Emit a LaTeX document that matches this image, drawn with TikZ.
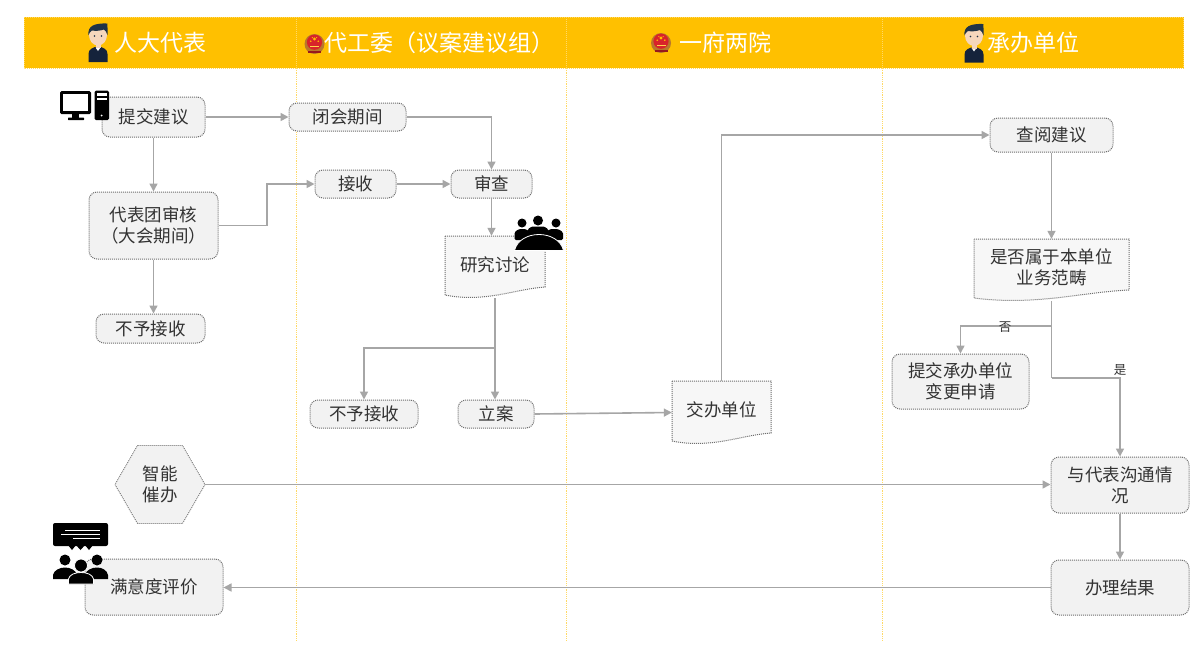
\documentclass[tikz,border=0pt]{standalone}
\usepackage{fontspec}
\setmainfont{Noto Sans CJK SC}
\usetikzlibrary{arrows.meta,shapes.geometric}
\definecolor{hdr}{HTML}{FFC000}
\definecolor{boxfill}{HTML}{F2F2F2}
\definecolor{boxline}{HTML}{6E6E6E}
\definecolor{conn}{HTML}{A6A6A6}
\definecolor{txt}{HTML}{333333}
\definecolor{hair}{HTML}{1F3347}
\definecolor{skin}{HTML}{F6D7BC}
\definecolor{navy}{HTML}{15233B}
\definecolor{eggold}{HTML}{B9772B}
\definecolor{egred}{HTML}{D8232A}
\definecolor{divider}{HTML}{FFD966}
\tikzset{
  x=1pt,y=-1pt,
  dotline/.style={dash pattern=on 1pt off 1pt},
  hdrtext/.style={text=white,font=\fontsize{23}{26}\selectfont,inner sep=0pt},
  flowbox/.style={draw=boxline,dotline,line width=1pt,fill=boxfill,rounded corners=8pt,text=txt,
    font=\fontsize{17.5}{21}\selectfont,align=center,inner sep=0pt},
  docbox/.style={text=txt,font=\fontsize{17.5}{21}\selectfont,align=center,inner sep=0pt},
  docshape/.style={draw=boxline,dotline,line width=1pt,fill=boxfill!60!white},
  hexbox/.style={regular polygon,regular polygon sides=6,draw=boxline,dotline,line width=0.8pt,fill=boxfill,
    text=txt,font=\fontsize{17.5}{21}\selectfont,align=center,inner sep=0pt},
  arrowline/.style={draw=conn,line width=1.6pt,-{Triangle[length=8pt,width=8pt]}},
  plainline/.style={draw=conn,line width=1.6pt},
  edgetext/.style={text=txt,font=\fontsize{12.5}{14}\selectfont,inner sep=0pt},
  vdiv/.style={draw=divider,dash pattern=on 1.2pt off 1pt,line width=0.8pt}
}
% box: name, x1, y1, x2, y2, text
\newcommand{\flownode}[6]{%
  \pgfmathsetmacro{\cxx}{(#2+#4)/2}\pgfmathsetmacro{\cyy}{(#3+#5)/2}%
  \pgfmathsetmacro{\bw}{#4-#2}\pgfmathsetmacro{\bh}{#5-#3}%
  \node[flowbox,minimum width=\bw pt,minimum height=\bh pt] (#1) at (\cxx,\cyy) {#6};}
% document: name, x1, y1, x2, y2, text
\newcommand{\docnode}[6]{%
  \pgfmathsetmacro{\cxx}{(#2+#4)/2}\pgfmathsetmacro{\cyy}{(#3+#5)/2}%
  \pgfmathsetmacro{\bw}{#4-#2}\pgfmathsetmacro{\bh}{#5-#3}%
  \path[docshape] (#2,#3) -- (#4,#3) -- (#4,#5-11)
    .. controls (#2+0.7*\bw,#5-9) and (#2+0.4*\bw,#5+5) .. (#2,#5-3) -- cycle;
  \node[docbox,minimum width=\bw pt,minimum height=\bh pt] (#1) at (\cxx,\cyy)
    {\raisebox{6pt}{\begin{tabular}{@{}c@{}}#6\end{tabular}}};}
\newcommand{\personicon}[2]{%
  \begin{scope}[shift={(#1,#2)}]
    \fill[navy] (-9.5,39) -- (-9.5,31) .. controls (-9.5,26) and (-5,25) .. (-3,24) -- (3,24)
      .. controls (5,25) and (9.5,26) .. (9.5,31) -- (9.5,39) -- cycle;
    \fill[white] (-2.5,24.5) -- (0,28) -- (2.5,24.5) -- cycle;
    \fill[skin] (-2.5,18) rectangle (2.5,25);
    \fill[skin] (0,12) ellipse [x radius=9,y radius=10.5];
    \fill[hair] (-9.5,12) .. controls (-10.5,3) and (-4,0) .. (9.5,0.5)
      .. controls (9,2) and (10,6) .. (9.5,12) .. controls (8,9) and (8,7.5) .. (6,6.5)
      .. controls (2,8) and (-3,8) .. (-6,7.5) .. controls (-8,8.5) and (-8.5,10) .. (-9.5,12) -- cycle;
    \fill[hair] (-3.5,13) circle (0.9) (3.5,13) circle (0.9);
  \end{scope}}
\newcommand{\emblemicon}[2]{%
  \begin{scope}[shift={(#1,#2)}]
    \fill[eggold] (0,0) circle (10);
    \fill[egred] (0,-1.8) circle (7.6);
    \fill[hdr] (0,-5) circle (1.7) (-3.8,-2.8) circle (0.9) (3.8,-2.8) circle (0.9) (-2.2,-6.4) circle (0.6) (2.2,-6.4) circle (0.6);
    \fill[hdr!70!white] (-4.5,1.5) rectangle (4.5,3.4);
    \fill[egred!70!black] (-6.5,6.5) rectangle (6.5,9);
  \end{scope}}
\begin{document}
\begin{tikzpicture}
\useasboundingbox (0,0) rectangle (1200,649);
\fill[white] (0,0) rectangle (1200,649);
% header band
\fill[hdr] (24,17) rectangle (1183.5,68);
\draw[draw=hdr!60!white,dotline,line width=0.6pt] (24,17) rectangle (1183.5,68);
% lane dividers
\draw[vdiv] (296,68) -- (296,642);
\draw[vdiv] (566.5,68) -- (566.5,642);
\draw[vdiv] (882,68) -- (882,642);
\draw[draw=hdr!60!white,dotline,line width=0.6pt] (296,17) -- (296,68) (566.5,17) -- (566.5,68) (882,17) -- (882,68);
% header text
\node[hdrtext] (h1) at (160,43) {人大代表};
\node[hdrtext] (h2) at (439.5,43) {代工委（议案建议组）};
\node[hdrtext] (h3) at (725.5,43) {一府两院};
\node[hdrtext] (h4) at (1033,43) {承办单位};
% nodes
\flownode{submit}{102}{97}{205}{137}{提交建议}
\flownode{recess}{289}{103}{406}{131}{闭会期间}
\flownode{accept}{315}{170}{396}{198}{接收}
\flownode{review}{451}{170}{532}{198}{审查}
\flownode{delegation}{89}{192}{218}{259}{代表团审核\\（大会期间）}
\flownode{rejectA}{96}{314}{205}{343}{不予接收}
\docnode{discuss}{445}{236}{545}{298}{研究讨论}
\flownode{rejectB}{310}{400}{418}{428}{不予接收}
\flownode{filed}{458}{400}{534}{428}{立案}
\docnode{assign}{672}{381}{771}{444}{交办单位}
\flownode{consult}{990}{118}{1113}{152}{查阅建议}
\docnode{inscope}{974}{239}{1129}{301}{是否属于本单位\\业务范畴}
\flownode{change}{892}{354}{1029}{409}{提交承办单位\\变更申请}
\flownode{talk}{1051}{457}{1189}{513}{与代表沟通情\\况}
\flownode{result}{1051}{560}{1189}{615}{办理结果}
\flownode{satisfy}{85}{559}{223}{615}{满意度评价}
\node[hexbox,minimum size=90pt] (urge) at (160,484.5) {智能\\催办};
% connectors
\coordinate (b2) at (267,184);
\coordinate (split1) at (495,348);
\coordinate (split1b) at (364,348);
\coordinate (up) at (721.5,135);
\coordinate (j1) at (1051.5,326);
\coordinate (j1b) at (960.5,326);
\coordinate (j2) at (1051.5,378);
\coordinate (j2b) at (1120,378);
\draw[arrowline] (submit.east) -- (submit.east -| recess.west);
\draw[arrowline] (recess.east) -| (review.north);
\draw[arrowline] (submit.south) -- (submit.south |- delegation.north);
\draw[arrowline] (delegation.east) -| (b2) -- (accept.west);
\draw[arrowline] (accept.east) -- (review.west);
\draw[arrowline] (review.south) -- (review.south |- discuss.north);
\draw[arrowline] (delegation.south) -- (delegation.south |- rejectA.north);
\draw[arrowline] (discuss.south) -- (split1) -- (filed.north -| split1);
\draw[arrowline] (split1) -- (split1b) -- (rejectB.north);
\draw[arrowline] (filed.east) -- (assign.west);
\draw[arrowline] (assign.north) -- (up) -- (consult.west);
\draw[arrowline] (consult.south) -- (consult.south |- inscope.north);
\draw[arrowline] (j1) -- (j1b) -- (change.north);
\draw[plainline] (inscope.south) -- (j2);
\draw[arrowline] (j2) -- (j2b) -- (talk.north);
\draw[arrowline] (urge.east) -- (urge.east -| talk.west);
\draw[arrowline] (talk.south) -- (result.north);
\draw[arrowline] (result.west) -- (result.west -| satisfy.east);
\node[edgetext] (no) at (1005,327) {否};
\node[edgetext] (yes) at (1120,370) {是};
% header icons
\personicon{98}{23}
\emblemicon{314.5}{44}
\emblemicon{661}{43}
\personicon{974}{23.5}
% computer icon
\fill[black,rounded corners=1.5pt] (60,91) rectangle (91,114);
\fill[white] (63,94) rectangle (88,111);
\fill[black] (72,114) rectangle (79,118);
\fill[black,rounded corners=0.5pt] (68,117.5) rectangle (84,120);
\fill[black,rounded corners=1.5pt] (94.5,90.5) rectangle (109,120);
\fill[white] (96.5,93) rectangle (107,96);
\fill[white] (96.5,98) rectangle (107,99.5);
\fill[white] (101.7,115.5) circle (1);
% meeting icon
\fill[black] (522,223) circle (4.5) (538,220.5) circle (5) (556,223) circle (4.5);
\fill[black,rounded corners=1.5pt] (514.5,240) -- (514.5,232) -- (519,229) -- (526,229) -- (530,232) -- (546,232) -- (550,229) -- (558,229) -- (563,232) -- (563,240) -- cycle;
\fill[black,rounded corners=1pt] (528,236) -- (528,229) -- (532,226.5) -- (544,226.5) -- (548,229) -- (548,236) -- cycle;
\fill[black,draw=white,line width=0.8pt] (514.5,250.5) .. controls (517,240) and (528,234.5) .. (539,234.5) .. controls (550,234.5) and (561,240) .. (563.5,250.5) -- cycle;
% audience icon
\fill[black,rounded corners=2pt] (53,523) rectangle (108,546);
\fill[black] (68,545) -- (72,550) -- (76,545) -- cycle;
\fill[black] (76,545) -- (80.5,550) -- (85,545) -- cycle;
\fill[black] (85,545) -- (89,550) -- (93,545) -- cycle;
\draw[white,line width=0.9pt] (65,530.5) -- (100,530.5) (61,534.2) -- (100,534.2) (73,538) -- (100,538);
\fill[black] (65,560) circle (5.5) (97,560) circle (5.5);
\fill[black] (53,579) -- (53,575) .. controls (54,570) and (60,567.5) .. (65,567.5) .. controls (70,567.5) and (76,570) .. (77,575) -- (77,579) -- cycle;
\fill[black] (85,579) -- (85,575) .. controls (86,570) and (92,567.5) .. (97,567.5) .. controls (102,567.5) and (107,570) .. (108,575) -- (108,579) -- cycle;
\fill[black,draw=white,line width=0.8pt] (81,565.5) circle (6.5);
\fill[black,draw=white,line width=0.8pt] (68.5,584) -- (68.5,579) .. controls (69.5,574.5) and (75,572.5) .. (81,572.5) .. controls (87,572.5) and (92.5,574.5) .. (93.5,579) -- (93.5,584) -- cycle;
\end{tikzpicture}
\end{document}
